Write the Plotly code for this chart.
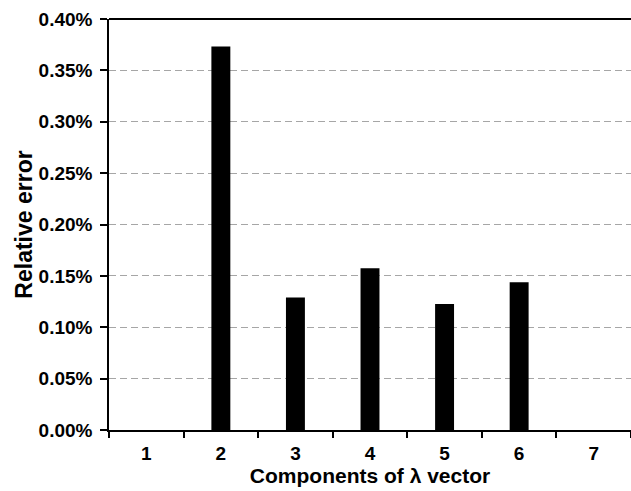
import plotly.graph_objects as go

# Relative error of each component of the lambda vector
components = ["1", "2", "3", "4", "5", "6", "7"]
relative_error = [0.0, 0.003733, 0.00129, 0.001575, 0.001227, 0.001438, 0.0]
y_ticks = [0.0, 0.0005, 0.001, 0.0015, 0.002, 0.0025, 0.003, 0.0035, 0.004]

FONT = "Liberation Sans, Arial, sans-serif"

fig = go.Figure(
    go.Bar(
        x=components,
        y=relative_error,
        marker=dict(color="black", line=dict(width=0)),
    )
)

fig.update_layout(
    width=631,
    height=491,
    margin=dict(l=109, r=0, t=19, b=61),
    paper_bgcolor="white",
    plot_bgcolor="white",
    bargap=0.746,
    showlegend=False,
    font=dict(family=FONT, size=19, color="black", weight="bold"),
)

fig.update_xaxes(
    type="category",
    range=[-0.5, 6.5],
    tickson="boundaries",
    ticks="outside",
    ticklen=6,
    tickwidth=1.5,
    tickcolor="black",
    showline=True,
    linecolor="black",
    linewidth=1.5,
    showgrid=False,
    tickfont=dict(family=FONT, size=19, weight="bold"),
    ticklabelstandoff=5,
    title=dict(text="Components of λ vector",
               font=dict(family=FONT, size=21, weight="bold"), standoff=4),
    automargin=False,
)

fig.update_yaxes(
    range=[0, 0.004],
    tickvals=y_ticks,
    tickformat=".2%",
    ticks="outside",
    ticklen=7,
    tickwidth=1.5,
    tickcolor="black",
    showline=True,
    linecolor="black",
    linewidth=1.5,
    showgrid=True,
    gridcolor="#a6a6a6",
    gridwidth=1.2,
    griddash="7px,4px",
    zeroline=False,
    tickfont=dict(family=FONT, size=19, weight="bold"),
    ticklabelstandoff=4,
    title=dict(text="Relative error",
               font=dict(family=FONT, size=23, weight="bold"), standoff=0),
    automargin=False,
)

# Heavier frame line across the top of the plot area
fig.add_shape(type="line", xref="paper", yref="paper",
              x0=0, x1=1, y0=1, y1=1,
              line=dict(color="black", width=2))

fig.write_html("out.html")
